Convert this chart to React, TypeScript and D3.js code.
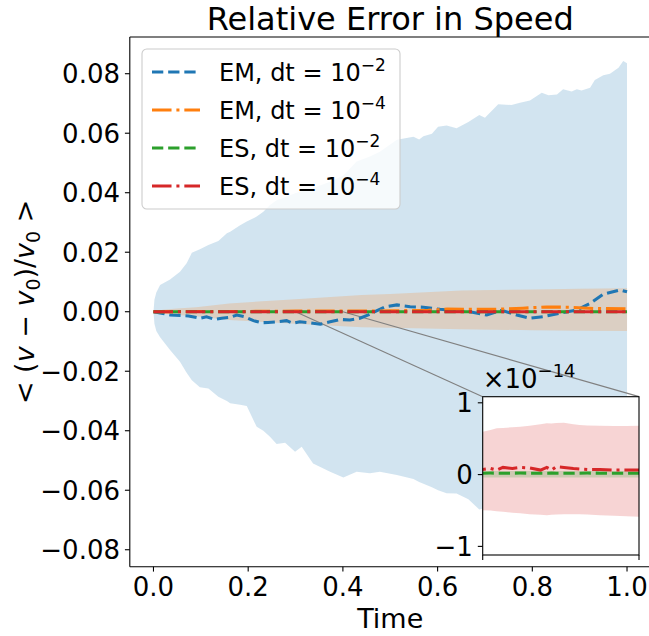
import React from "react";
import * as d3 from "d3";

// ---- Data ----
// EM, dt = 1e-2 : band (mean ± std) and mean
const bandT = [0, 0.002, 0.006, 0.014, 0.035, 0.056, 0.07, 0.081, 0.098, 0.116, 0.137, 0.155, 0.162, 0.183, 0.197, 0.218, 0.232, 0.246, 0.26, 0.278, 0.299, 0.313, 0.337, 0.373, 0.401, 0.429, 0.457, 0.478, 0.514, 0.549, 0.561, 0.57, 0.588, 0.601, 0.619, 0.64, 0.665, 0.688, 0.7, 0.728, 0.756, 0.774, 0.795, 0.82, 0.834, 0.852, 0.865, 0.883, 0.894, 0.904, 0.922, 0.932, 0.95, 0.964, 0.982, 0.992, 1.0];
const emBigUpper = [0, 0.004, 0.0065, 0.009, 0.0108, 0.0134, 0.0163, 0.0198, 0.021, 0.0224, 0.0238, 0.0264, 0.0269, 0.0291, 0.0303, 0.032, 0.0336, 0.0359, 0.0375, 0.0385, 0.0398, 0.0405, 0.0416, 0.0437, 0.0458, 0.0505, 0.0522, 0.0538, 0.0578, 0.0588, 0.0579, 0.059, 0.0598, 0.0622, 0.0626, 0.0617, 0.0638, 0.0661, 0.0652, 0.0697, 0.0695, 0.0702, 0.071, 0.0736, 0.0728, 0.073, 0.0748, 0.074, 0.0748, 0.0744, 0.0753, 0.0779, 0.0795, 0.08, 0.082, 0.0843, 0.0835];
const emBigLower = [0, -0.004, -0.0065, -0.0086, -0.0129, -0.0168, -0.0205, -0.023, -0.0254, -0.0258, -0.0286, -0.03, -0.0308, -0.0313, -0.0317, -0.0387, -0.04, -0.042, -0.0445, -0.044, -0.0471, -0.0454, -0.051, -0.0538, -0.0557, -0.0538, -0.0543, -0.0538, -0.0549, -0.0562, -0.0572, -0.0578, -0.059, -0.06, -0.061, -0.0611, -0.063, -0.0665, -0.066, -0.0668, -0.068, -0.069, -0.0695, -0.0703, -0.07, -0.0712, -0.072, -0.0722, -0.073, -0.0735, -0.0742, -0.0748, -0.0755, -0.0758, -0.0765, -0.077, -0.0772];
const emBigT = [0, 0.02, 0.035, 0.074, 0.098, 0.112, 0.13, 0.144, 0.162, 0.176, 0.193, 0.211, 0.228, 0.242, 0.26, 0.281, 0.295, 0.309, 0.331, 0.352, 0.373, 0.394, 0.415, 0.436, 0.455, 0.471, 0.49, 0.514, 0.542, 0.57, 0.605, 0.64, 0.668, 0.704, 0.735, 0.767, 0.795, 0.823, 0.858, 0.894, 0.922, 0.95, 0.985, 1.0];
const emBigMean = [0, -0.0006, -0.0011, -0.0014, -0.0022, -0.0017, -0.0026, -0.0022, -0.0019, -0.0011, -0.0017, -0.003, -0.0037, -0.0036, -0.0034, -0.003, -0.0039, -0.0034, -0.0037, -0.0042, -0.0034, -0.0026, -0.0028, -0.0022, -0.001, 0.0003, 0.0017, 0.0023, 0.0017, 0.0015, 0.0008, 0.0003, 0.0, -0.0011, 0.0005, -0.0011, -0.0022, -0.0017, -0.0005, 0.0006, 0.0028, 0.0059, 0.0073, 0.0067];

// EM, dt = 1e-4
const emSmallBandT = [0, 0.02, 0.05, 0.09, 0.16, 0.3, 0.44, 0.5, 0.65, 0.8, 0.9, 1.0];
const emSmallUpper = [0, 0.0007, 0.0011, 0.0015, 0.0028, 0.0042, 0.0056, 0.006, 0.0071, 0.0075, 0.0077, 0.0079];
const emSmallLower = [0, -0.0007, -0.0011, -0.0015, -0.0028, -0.004, -0.0052, -0.0054, -0.0059, -0.0062, -0.0064, -0.0065];
const emSmallT = [0, 0.1, 0.2, 0.3, 0.4, 0.5, 0.58, 0.62, 0.67, 0.72, 0.78, 0.83, 0.88, 0.93, 1.0];
const emSmallMean = [0, 0.0001, 0.0001, 0.0002, 0.0002, 0.0003, 0.0005, 0.0009, 0.0008, 0.0008, 0.0012, 0.0016, 0.0015, 0.0011, 0.001];

// ES series, in units of 1e-14
const esT = [0, 0.1, 0.2, 0.29, 0.3, 0.305, 0.309, 0.313, 0.319, 0.324, 0.33, 0.337, 0.341, 0.344, 0.347, 0.352, 0.358, 0.362, 0.367, 0.375, 0.384, 0.392, 0.4, 0.41, 0.5, 0.6, 0.7, 0.8, 0.9, 1.0];
const esSmallMean = [0, 0.07, 0.08, 0.075, 0.072, 0.086, 0.063, 0.1, 0.086, 0.1, 0.093, 0.063, 0.1, 0.063, 0.109, 0.1, 0.086, 0.079, 0.072, 0.072, 0.063, 0.063, 0.063, 0.065, 0.07, 0.07, 0.07, 0.07, 0.07, 0.07];
const esSmallUpper = [0, 0.45, 0.55, 0.59, 0.597, 0.62, 0.644, 0.65, 0.66, 0.667, 0.68, 0.7, 0.714, 0.71, 0.718, 0.722, 0.7, 0.69, 0.685, 0.68, 0.676, 0.678, 0.681, 0.68, 0.7, 0.72, 0.74, 0.76, 0.78, 0.8];
const esSmallLower = [0, -0.38, -0.45, -0.49, -0.495, -0.5, -0.51, -0.519, -0.53, -0.54, -0.551, -0.56, -0.565, -0.56, -0.555, -0.551, -0.551, -0.551, -0.555, -0.565, -0.572, -0.579, -0.588, -0.59, -0.62, -0.64, -0.66, -0.68, -0.7, -0.72];
const esBigMean = [0, 0.018, 0.019, 0.02, 0.02, 0.021, 0.02, 0.019, 0.02, 0.021, 0.02, 0.019, 0.02, 0.021, 0.02, 0.02, 0.019, 0.02, 0.021, 0.02, 0.02, 0.019, 0.02, 0.02, 0.02, 0.021, 0.02, 0.02, 0.021, 0.02];
const esBigUpper = [0, 0.045, 0.048, 0.05, 0.05, 0.051, 0.05, 0.049, 0.05, 0.051, 0.05, 0.049, 0.05, 0.051, 0.05, 0.05, 0.049, 0.05, 0.051, 0.05, 0.05, 0.049, 0.05, 0.05, 0.05, 0.051, 0.05, 0.05, 0.051, 0.05];
const esBigLower = [0, -0.035, -0.038, -0.04, -0.04, -0.039, -0.04, -0.041, -0.04, -0.039, -0.04, -0.041, -0.04, -0.039, -0.04, -0.04, -0.041, -0.04, -0.039, -0.04, -0.04, -0.041, -0.04, -0.04, -0.04, -0.039, -0.04, -0.04, -0.039, -0.04];
const esScale = 1e-14;

const xTicks = [0, 0.2, 0.4, 0.6, 0.8, 1.0];
const yTicks = [-0.08, -0.06, -0.04, -0.02, 0, 0.02, 0.04, 0.06, 0.08];
const insetYTicks = [-1, 0, 1];
const insetXTicks = [0.3, 0.4];
const legendLabels = [
  { base: "EM, dt = 10", exp: "−2" },
  { base: "EM, dt = 10", exp: "−4" },
  { base: "ES, dt = 10", exp: "−2" },
  { base: "ES, dt = 10", exp: "−4" },
];

const BLUE = "#1f77b4";
const ORANGE = "#ff7f0e";
const GREEN = "#2ca02c";
const RED = "#d62728";
const FONT = "DejaVu Sans";
const LW = 3.05;
const DASHED = `${3.7 * LW},${1.6 * LW}`;
const DASHDOT = `${6.4 * LW},${1.6 * LW},${LW},${1.6 * LW}`;

export default function App() {
  const W = 649, H = 636;
  const left = 129.8, right = 650.7, top = 37, bottom = 566.7;
  const x = d3.scaleLinear().domain([-0.05, 1.05]).range([left, right]);
  const y = d3.scaleLinear().domain([-0.0857, 0.09234]).range([bottom, top]);

  const iL = 482.7, iR = 639, iT = 396.7, iB = 555;
  const xi = d3.scaleLinear().domain([0.3, 0.4]).range([iL, iR]);
  const yi = d3.scaleLinear().domain([-1.12, 1.085]).range([iB, iT]);

  const band = (t: number[], lo: number[], up: number[], xs: any, ys: any, k = 1) =>
    d3.area<number>()
      .x((_, i) => xs(t[i]))
      .y0((_, i) => ys(lo[i] * k))
      .y1((_, i) => ys(up[i] * k))(t) || "";
  const line = (t: number[], v: number[], xs: any, ys: any, k = 1) =>
    d3.line<number>()
      .x((_, i) => xs(t[i]))
      .y((_, i) => ys(v[i] * k))(t) || "";

  const colors = [BLUE, ORANGE, GREEN, RED];
  const dashes = [DASHED, DASHDOT, DASHED, DASHDOT];
  const fmt = d3.format(".2f");
  const fmt1 = d3.format(".1f");
  const legX = 142, legY = 49, legW = 258, legH = 160;

  return (
    <svg width={W} height={H} style={{ position: "absolute", left: 0, top: 0, background: "#fff" }} fontFamily={FONT}>
      <defs>
        <clipPath id="mainClip"><rect x={left} y={top} width={right - left} height={bottom - top} /></clipPath>
        <clipPath id="insetClip"><rect x={iL} y={iT} width={iR - iL} height={iB - iT} /></clipPath>
      </defs>
      <rect x={0} y={0} width={W} height={H} fill="#fff" />
      <g clipPath="url(#mainClip)">
        <path d={band(bandT, emBigLower, emBigUpper, x, y)} fill={BLUE} fillOpacity={0.2} />
        <path d={band(emSmallBandT, emSmallLower, emSmallUpper, x, y)} fill={ORANGE} fillOpacity={0.2} />
        <path d={band(esT, esBigLower, esBigUpper, x, y, esScale)} fill={GREEN} fillOpacity={0.2} />
        <path d={band(esT, esSmallLower, esSmallUpper, x, y, esScale)} fill={RED} fillOpacity={0.2} />
        <line x1={x(0.3)} y1={y(0)} x2={iL} y2={iT} stroke="#808080" strokeWidth={1.2} />
        <line x1={x(0.4)} y1={y(0)} x2={iR} y2={iT} stroke="#808080" strokeWidth={1.2} />
        <path d={line(emBigT, emBigMean, x, y)} fill="none" stroke={BLUE} strokeWidth={LW} strokeDasharray={DASHED} />
        <path d={line(emSmallT, emSmallMean, x, y)} fill="none" stroke={ORANGE} strokeWidth={LW} strokeDasharray={DASHDOT} />
        <path d={line(esT, esBigMean, x, y, esScale)} fill="none" stroke={GREEN} strokeWidth={LW} strokeDasharray={DASHED} />
        <path d={line(esT, esSmallMean, x, y, esScale)} fill="none" stroke={RED} strokeWidth={LW} strokeDasharray={DASHDOT} />
      </g>
      {/* spines */}
      <line x1={left} y1={top} x2={left} y2={bottom} stroke="#000" strokeWidth={1.1} />
      <line x1={left} y1={top} x2={right} y2={top} stroke="#000" strokeWidth={1.1} />
      <line x1={left} y1={bottom} x2={right} y2={bottom} stroke="#000" strokeWidth={1.1} />
      <line x1={right} y1={top} x2={right} y2={bottom} stroke="#000" strokeWidth={1.1} />
      {xTicks.map((t) => (
        <g key={"xt" + t}>
          <line x1={x(t)} x2={x(t)} y1={bottom} y2={bottom + 4.9} stroke="#000" strokeWidth={1.1} />
          <text x={x(t)} y={596} fontSize={26} textAnchor="middle">{fmt1(t)}</text>
        </g>
      ))}
      {yTicks.map((t) => (
        <g key={"yt" + t}>
          <line x1={left - 4.9} x2={left} y1={y(t)} y2={y(t)} stroke="#000" strokeWidth={1.1} />
          <text x={left - 9.8} y={y(t)} dy="0.36em" fontSize={26} textAnchor="end">{fmt(t)}</text>
        </g>
      ))}
      {/* legend */}
      <rect x={legX} y={legY} width={legW} height={legH} rx={4.8} fill="#fff" fillOpacity={0.8} stroke="#cccccc" strokeWidth={1.1} />
      {legendLabels.map((lab, i) => {
        const cy = 72 + i * 38;
        return (
          <g key={"lg" + i}>
            <line x1={152} x2={200} y1={cy} y2={cy} stroke={colors[i]} strokeWidth={LW} strokeDasharray={dashes[i]} />
            <text x={219} y={cy + 8.5} fontSize={24}>
              {lab.base}
              <tspan dy={-10} fontSize={17}>{lab.exp}</tspan>
            </text>
          </g>
        );
      })}
      {/* inset */}
      <rect x={iL} y={iT} width={iR - iL} height={iB - iT} fill="#fff" />
      <g clipPath="url(#insetClip)">
        <path d={band(esT, esSmallLower, esSmallUpper, xi, yi)} fill={RED} fillOpacity={0.2} />
        <path d={band(esT, esBigLower, esBigUpper, xi, yi)} fill={GREEN} fillOpacity={0.2} />
        <path d={line(esT, esBigMean, xi, yi)} fill="none" stroke={GREEN} strokeWidth={LW} strokeDasharray={DASHED} />
        <path d={line(esT, esSmallMean, xi, yi)} fill="none" stroke={RED} strokeWidth={LW} strokeDasharray={DASHDOT} />
      </g>
      <rect x={iL} y={iT} width={iR - iL} height={iB - iT} fill="none" stroke="#000" strokeWidth={1.1} />
      {insetYTicks.map((t) => (
        <g key={"iyt" + t}>
          <line x1={iL - 4.9} x2={iL} y1={yi(t)} y2={yi(t)} stroke="#000" strokeWidth={1.1} />
          <text x={iL - 9.8} y={yi(t)} dy="0.36em" fontSize={26} textAnchor="end">{d3.format("d")(t)}</text>
        </g>
      ))}
      {insetXTicks.map((t) => (
        <line key={"ixt" + t} x1={xi(t)} x2={xi(t)} y1={iB} y2={iB + 4.9} stroke="#000" strokeWidth={1.1} />
      ))}
      <text x={iL} y={388} fontSize={26}>
        ×10<tspan dy={-11} fontSize={18}>−14</tspan>
      </text>
      {/* title & labels */}
      <text x={(left + right) / 2} y={30} fontSize={32} textAnchor="middle">Relative Error in Speed</text>
      <text x={(left + right) / 2} y={628} fontSize={27} textAnchor="middle">Time</text>
      <text transform={`translate(34, ${(top + bottom) / 2}) rotate(-90)`} fontSize={27} textAnchor="middle">
        {"< ("}<tspan fontStyle="italic">v</tspan>{" − "}<tspan fontStyle="italic">v</tspan>
        <tspan dy={6} fontSize={19}>0</tspan>
        <tspan dy={-6}>{")/"}</tspan><tspan fontStyle="italic">v</tspan>
        <tspan dy={6} fontSize={19}>0</tspan>
        <tspan dy={-6}>{" >"}</tspan>
      </text>
    </svg>
  );
}
